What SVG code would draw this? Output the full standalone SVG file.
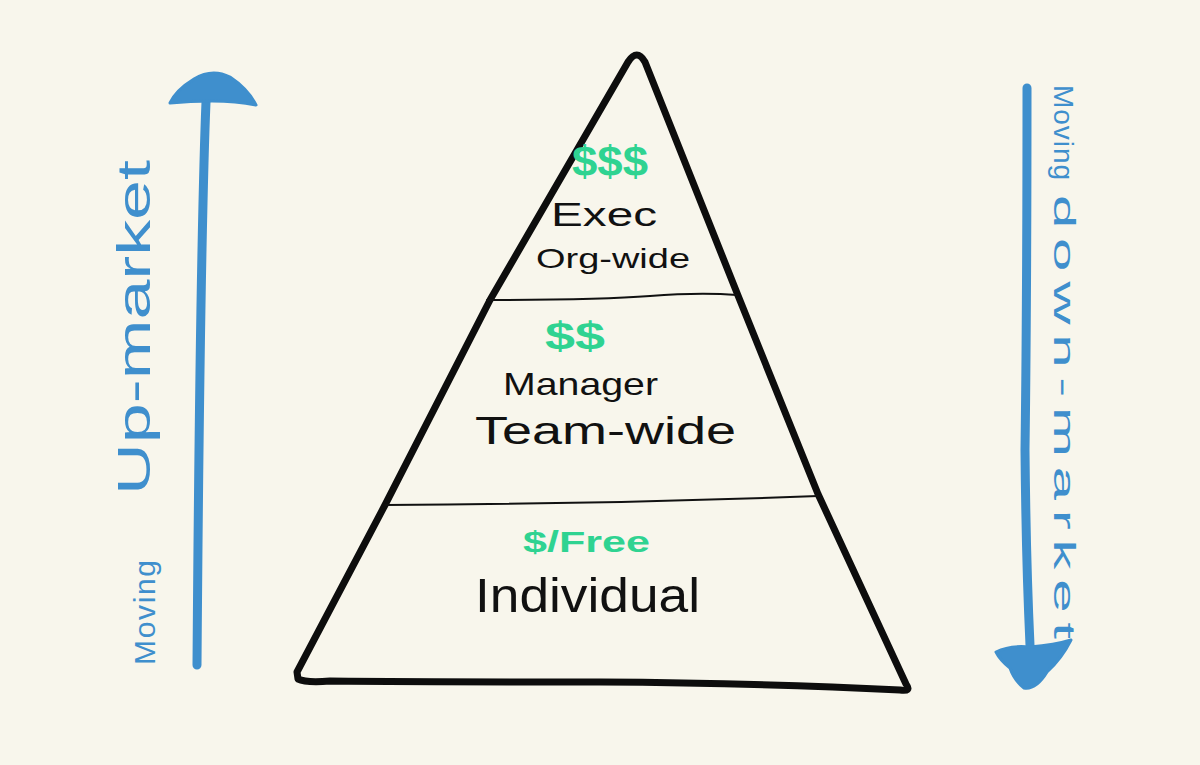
<svg xmlns="http://www.w3.org/2000/svg" width="1200" height="765" viewBox="0 0 1200 765">
  <style>
    .bg { fill: #f8f6ec; }
    .ink { fill: #111111; font-family: "Liberation Sans", "DejaVu Sans", sans-serif; }
    .money { fill: #2fd391; font-family: "Liberation Sans", "DejaVu Sans", sans-serif; font-weight: bold; }
    .blue { fill: #3f8fcd; font-family: "Liberation Sans", "DejaVu Sans", sans-serif; }
    .edge { fill: none; stroke: #0d0d0d; stroke-width: 7; stroke-linejoin: round; stroke-linecap: round; }
    .divider { fill: none; stroke: #111111; stroke-width: 2; stroke-linecap: round; }
    .shaft { fill: none; stroke: #3f8fcd; stroke-width: 9; stroke-linecap: round; }
    .head { fill: #3f8fcd; stroke: #3f8fcd; stroke-width: 3; stroke-linejoin: round; }
  </style>
  <rect class="bg" x="0" y="0" width="1200" height="765"/>

  <g id="pyramid">
    <path class="edge" d="M297,672 L385,505 L490,300 L628,62 Q637,48 645,62 L737,293 L818,494 L906,684 Q912,692 900,690 Q760,683 600,682 Q430,682 330,681 Q306,683 298,679 Z"/>
    <path class="divider" d="M487,300 Q600,300 650,296 Q700,292 737,295"/>
    <path class="divider" d="M385,505 Q600,504 818,496"/>
  </g>

  <g id="tier-exec">
    <text class="money" x="572" y="176" font-size="42" textLength="76" lengthAdjust="spacingAndGlyphs">$$$</text>
    <text class="ink" x="551" y="226" font-size="34" textLength="106" lengthAdjust="spacingAndGlyphs">Exec</text>
    <text class="ink" x="536" y="268" font-size="28" textLength="154" lengthAdjust="spacingAndGlyphs">Org-wide</text>
  </g>

  <g id="tier-manager">
    <text class="money" x="545" y="349" font-size="38" textLength="60" lengthAdjust="spacingAndGlyphs">$$</text>
    <text class="ink" x="503" y="395" font-size="32" textLength="155" lengthAdjust="spacingAndGlyphs">Manager</text>
    <text class="ink" x="475" y="444" font-size="38" textLength="261" lengthAdjust="spacingAndGlyphs">Team-wide</text>
  </g>

  <g id="tier-individual">
    <text class="money" x="523" y="552" font-size="30" textLength="127" lengthAdjust="spacingAndGlyphs">$/Free</text>
    <text class="ink" x="475" y="612" font-size="48" textLength="225" lengthAdjust="spacingAndGlyphs">Individual</text>
  </g>

  <g id="connectors">
    <g id="arrow-up">
      <path class="shaft" d="M197,665 Q199,400 202,250 Q204,150 206,102"/>
      <path class="head" d="M170,103 Q176,90 194,79 Q212,68 230,77 Q248,89 256,105 Q236,101 212,101 Q190,101 170,103 Z"/>
    </g>
    <g id="arrow-down">
      <path class="shaft" d="M1027,88 Q1027,300 1025,450 Q1026,560 1030,645"/>
      <path class="head" d="M996,652 Q1010,645 1030,647 Q1055,645 1071,640 Q1062,658 1047,672 Q1036,690 1024,688 Q1014,680 1010,668 Q1000,660 996,652 Z"/>
    </g>
  </g>

  <g id="label-up">
    <text class="blue" transform="translate(155,665) rotate(-90)" font-size="30" textLength="105" lengthAdjust="spacing">Moving</text>
    <text class="blue" transform="translate(150,495) rotate(-90)" font-size="46" textLength="335" lengthAdjust="spacingAndGlyphs">Up-market</text>
  </g>

  <g id="label-down">
    <text class="blue" transform="translate(1054,85) rotate(90)" font-size="28" textLength="95" lengthAdjust="spacing">Moving</text>
    <text class="blue" transform="translate(1054,195) rotate(90) scale(2,1)" font-size="30" textLength="222" lengthAdjust="spacing">down-market</text>
  </g>
</svg>
